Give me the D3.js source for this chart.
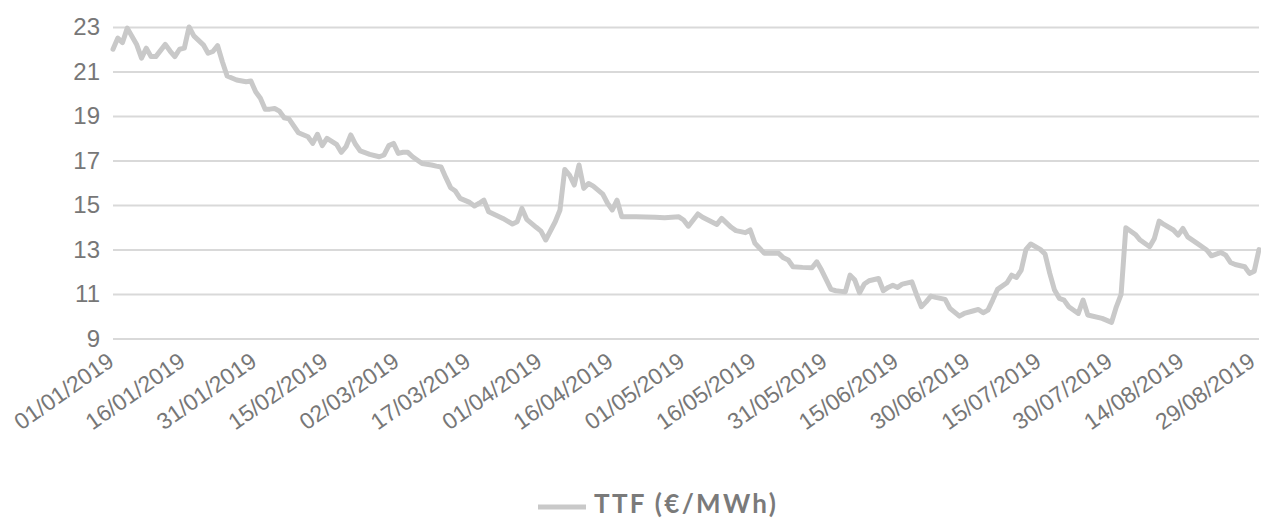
<!DOCTYPE html>
<html>
<head>
<meta charset="utf-8">
<script src="https://cdn.jsdelivr.net/npm/d3@7"></script>
<style>
  html, body { margin: 0; padding: 0; background: #fff; }
  svg { display: block; font-family: Lato, "Open Sans", sans-serif; }
</style>
</head>
<body>
<svg id="chart" width="1261" height="519"></svg>
<script>
// ---- data ----
const seriesName = "TTF (€/MWh)";
const dates = [
"2019-01-01","2019-01-02","2019-01-03","2019-01-04","2019-01-06","2019-01-07","2019-01-08","2019-01-09","2019-01-10","2019-01-12",
"2019-01-13","2019-01-14","2019-01-15","2019-01-16","2019-01-17","2019-01-18","2019-01-20","2019-01-21","2019-01-22","2019-01-23",
"2019-01-24","2019-01-25","2019-01-27","2019-01-29","2019-01-30","2019-01-31","2019-02-01","2019-02-02","2019-02-03","2019-02-04",
"2019-02-05","2019-02-06","2019-02-07","2019-02-09","2019-02-11","2019-02-12","2019-02-13","2019-02-14","2019-02-15","2019-02-17",
"2019-02-18","2019-02-19","2019-02-20","2019-02-21","2019-02-22","2019-02-24","2019-02-26","2019-02-27","2019-02-28","2019-03-01",
"2019-03-02","2019-03-03","2019-03-04","2019-03-05","2019-03-07","2019-03-09","2019-03-10","2019-03-11","2019-03-12","2019-03-13",
"2019-03-14","2019-03-15","2019-03-17","2019-03-18","2019-03-19","2019-03-20","2019-03-21","2019-03-22","2019-03-24","2019-03-26",
"2019-03-27","2019-03-28","2019-03-29","2019-03-30","2019-03-31","2019-04-01","2019-04-02","2019-04-04","2019-04-05","2019-04-06",
"2019-04-07","2019-04-08","2019-04-09","2019-04-10","2019-04-11","2019-04-12","2019-04-14","2019-04-15","2019-04-16","2019-04-17",
"2019-04-18","2019-04-21","2019-04-25","2019-04-27","2019-04-30","2019-05-01","2019-05-02","2019-05-04","2019-05-05","2019-05-08",
"2019-05-09","2019-05-11","2019-05-12","2019-05-14","2019-05-15","2019-05-16","2019-05-18","2019-05-19","2019-05-21","2019-05-22",
"2019-05-23","2019-05-24","2019-05-26","2019-05-28","2019-05-29","2019-05-30","2019-06-01","2019-06-02","2019-06-04","2019-06-05",
"2019-06-06","2019-06-07","2019-06-08","2019-06-09","2019-06-11","2019-06-12","2019-06-13","2019-06-14","2019-06-15","2019-06-16",
"2019-06-18","2019-06-19","2019-06-20","2019-06-21","2019-06-22","2019-06-23","2019-06-25","2019-06-26","2019-06-28","2019-06-29",
"2019-07-01","2019-07-02","2019-07-03","2019-07-04","2019-07-05","2019-07-06","2019-07-08","2019-07-09","2019-07-10","2019-07-11",
"2019-07-12","2019-07-13","2019-07-15","2019-07-16","2019-07-17","2019-07-18","2019-07-19","2019-07-20","2019-07-21","2019-07-23",
"2019-07-24","2019-07-25","2019-07-28","2019-07-30","2019-07-31","2019-08-01","2019-08-02","2019-08-04","2019-08-05","2019-08-07",
"2019-08-08","2019-08-09","2019-08-10","2019-08-12","2019-08-13","2019-08-14","2019-08-15","2019-08-17","2019-08-19","2019-08-20",
"2019-08-22","2019-08-23","2019-08-24","2019-08-25","2019-08-27","2019-08-28","2019-08-29","2019-08-30"
];
const ttf = [
22.0,22.5,22.3,22.95,22.2,21.6,22.05,21.67,21.67,22.22,
21.92,21.67,22.0,22.05,23.0,22.6,22.2,21.82,21.9,22.16,
21.44,20.8,20.62,20.54,20.57,20.09,19.8,19.31,19.31,19.34,
19.22,18.92,18.87,18.25,18.07,17.77,18.18,17.67,18.0,17.73,
17.37,17.62,18.15,17.73,17.43,17.28,17.17,17.25,17.67,17.77,
17.32,17.37,17.37,17.17,16.87,16.8,16.75,16.71,16.23,15.78,
15.63,15.3,15.12,14.96,15.08,15.22,14.7,14.6,14.4,14.15,
14.25,14.85,14.36,14.18,14.0,13.83,13.43,14.25,14.78,16.6,
16.35,15.9,16.8,15.75,15.97,15.85,15.49,15.08,14.78,15.22,
14.47,14.47,14.45,14.43,14.47,14.33,14.05,14.6,14.45,14.13,
14.4,14.0,13.85,13.76,13.88,13.28,12.83,12.83,12.83,12.63,
12.53,12.23,12.2,12.18,12.45,12.08,11.21,11.15,11.1,11.85,
11.63,11.06,11.45,11.6,11.7,11.15,11.3,11.4,11.3,11.45,
11.55,10.96,10.43,10.65,10.91,10.85,10.76,10.36,10.01,10.13,
10.25,10.31,10.16,10.28,10.73,11.21,11.51,11.85,11.75,12.08,
13.01,13.25,13.01,12.8,11.93,11.18,10.81,10.73,10.43,10.13,
10.73,10.06,9.91,9.73,10.43,10.99,13.98,13.68,13.43,13.13,
13.5,14.28,14.13,13.88,13.65,13.95,13.57,13.28,12.98,12.72,
12.87,12.75,12.42,12.33,12.23,11.93,12.03,13.0
];
const xTickLabels = ["01/01/2019","16/01/2019","31/01/2019","15/02/2019","02/03/2019","17/03/2019","01/04/2019","16/04/2019",
  "01/05/2019","16/05/2019","31/05/2019","15/06/2019","30/06/2019","15/07/2019","30/07/2019","14/08/2019","29/08/2019"];
const yTicks = [9,11,13,15,17,19,21,23];

// ---- chart ----
(function () {
const parseISO = d3.timeParse("%Y-%m-%d");
const parseLbl = d3.timeParse("%d/%m/%Y");
const fmtLbl = d3.timeFormat("%d/%m/%Y");
const data = dates.map((d,i) => ({date: parseISO(d), value: ttf[i]}));

const pLeft = 113, pRight = 1259, pTop = 27, pBottom = 338.6;
const x = d3.scaleTime().domain(d3.extent(data, d => d.date)).range([pLeft, pRight]);
const y = d3.scaleLinear().domain([9, 23]).range([pBottom, pTop]);

const svg = d3.select("#chart");
const textColor = "#777777";

// grid + y labels
const gy = svg.append("g").attr("transform", `translate(${pLeft},0)`)
  .call(d3.axisLeft(y).tickValues(yTicks).tickSize(-(pRight-pLeft)).tickPadding(13).tickFormat(d3.format("d")));
gy.select(".domain").remove();
gy.selectAll(".tick line").attr("stroke", "#d9d9d9").attr("stroke-width", 2);
gy.selectAll(".tick text").attr("fill", textColor).style("font-size", "24px");

// x labels
const gx = svg.append("g").attr("transform", `translate(0,${pBottom})`)
  .call(d3.axisBottom(x).tickValues(xTickLabels.map(parseLbl)).tickSize(0).tickFormat(fmtLbl));
gx.select(".domain").remove();
gx.selectAll(".tick text")
  .attr("fill", textColor).style("font-size", "23px")
  .attr("text-anchor", "end")
  .attr("dy", null).attr("y", 0)
  .attr("transform", "translate(2,26) rotate(-35)");

// line
svg.append("path").datum(data)
  .attr("fill", "none").attr("stroke", "#c9c9c9").attr("stroke-width", 5)
  .attr("stroke-linejoin", "round").attr("stroke-linecap", "round")
  .attr("d", d3.line().x(d => x(d.date)).y(d => y(d.value)));

// legend
const lg = svg.append("g");
lg.append("line").attr("x1", 538).attr("x2", 586).attr("y1", 507).attr("y2", 507)
  .attr("stroke", "#c9c9c9").attr("stroke-width", 5);
lg.append("text").attr("x", 594).attr("y", 513).text(seriesName)
  .attr("fill", "#7a7a7a").style("font-size", "26px").style("font-weight", "bold")
  .style("letter-spacing", "2.3px");
})();
</script>
</body>
</html>
